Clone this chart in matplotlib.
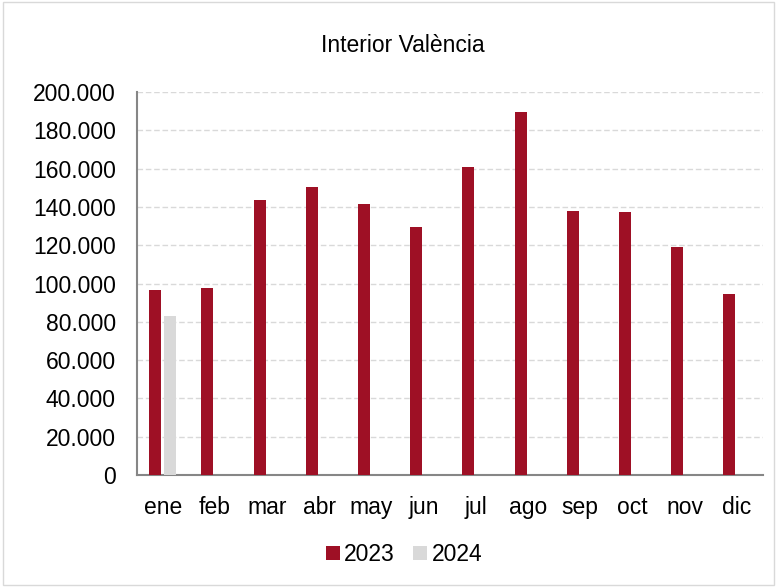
# Interior València: monthly bars 2023 vs 2024
import matplotlib
matplotlib.use("Agg")
import matplotlib.pyplot as plt
from matplotlib.ticker import FuncFormatter
import numpy as np

plt.rcParams['font.family'] = ['Liberation Sans', 'DejaVu Sans']

months = ["ene", "feb", "mar", "abr", "may", "jun", "jul", "ago", "sep", "oct", "nov", "dic"]
v2023 = [96500, 97500, 143500, 150500, 141800, 129500, 161000, 189500, 138000, 137200, 119000, 94500]
v2024 = [83000]

fig = plt.figure(figsize=(7.77, 5.87), dpi=100)
ax = fig.add_axes([0.176, 0.191, 0.806, 0.652])

x = np.arange(len(months))
w = 0.23
ax.bar(x - w / 2 - 0.03, v2023, width=w, color="#9e1025", label="2023", zorder=3)
ax.bar(x[:len(v2024)] + w / 2 + 0.03, v2024, width=w, color="#d9d9d9", label="2024", zorder=3)

ax.set_ylim(0, 200000)
ax.set_yticks(range(0, 200001, 20000))
ax.yaxis.set_major_formatter(FuncFormatter(lambda v, p: "0" if v == 0 else f"{int(v):,}".replace(",", ".")))
ax.set_xlim(-0.5, len(months) - 0.5)
ax.set_xticks(x)
ax.set_xticklabels(months)
ax.tick_params(axis='both', labelsize=16.5, length=0)
ax.tick_params(axis='y', pad=15)
ax.tick_params(axis='x', pad=15)

ax.grid(axis='y', color="#d9d9d9", linestyle=(0, (4, 2)), linewidth=1, zorder=0)
for s in ["top", "right"]:
    ax.spines[s].set_visible(False)
ax.spines["left"].set_color("#868686")
ax.spines["bottom"].set_color("#868686")
ax.spines["left"].set_linewidth(1.5)
ax.spines["bottom"].set_linewidth(1.5)

fig.text(0.518, 0.922, "Interior València", ha="center", va="center", fontsize=16.5)
fig.legend(loc="center", bbox_to_anchor=(0.52, 0.055), ncol=2, frameon=False, fontsize=16.5,
           handlelength=0.6, handleheight=0.6, handletextpad=0.2, columnspacing=0.8)

fig.patches.append(plt.Rectangle((0.004, 0.004), 0.992, 0.992, transform=fig.transFigure,
                                 fill=False, edgecolor="#d9d9d9", linewidth=1))

fig.savefig("out.png", dpi=100)
